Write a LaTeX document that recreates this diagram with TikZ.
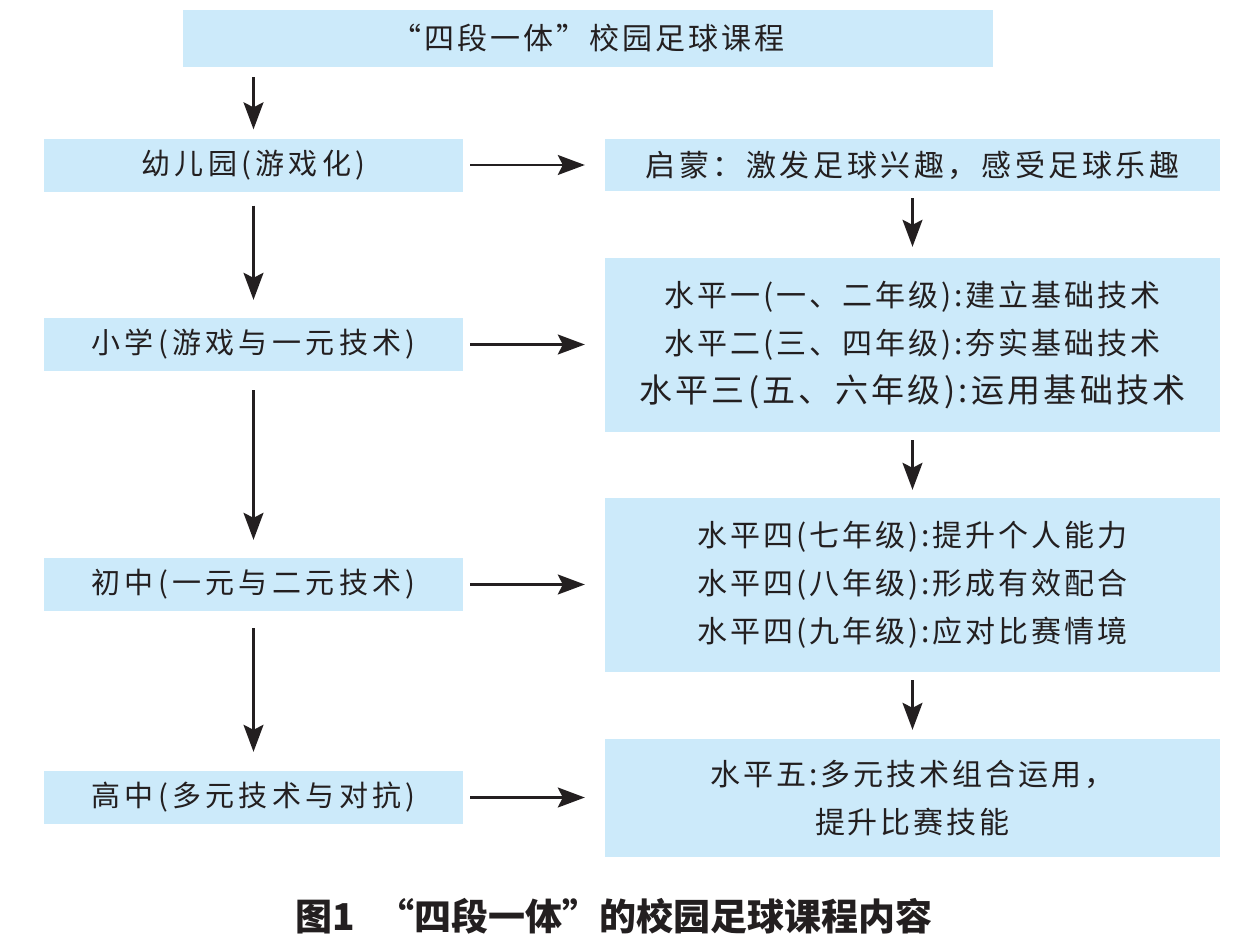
\documentclass[tikz,border=0pt]{standalone}
\usepackage{fontspec}
\setmainfont{Noto Sans CJK SC}
\newfontfamily\lsfont{Noto Sans CJK SC}[LetterSpace=15]
\newfontfamily\ttlfont{Noto Sans CJK SC}[LetterSpace=10]
\newfontfamily\rofont{Noto Sans CJK SC}[LetterSpace=12]
\newfontfamily\rtfont{Noto Sans CJK SC}[LetterSpace=10]
\newfontfamily\capfont{Noto Sans CJK SC}
\usetikzlibrary{arrows.meta}
\definecolor{boxblue}{RGB}{204,234,250}
\definecolor{ink}{RGB}{35,31,32}
\tikzset{
  box/.style={fill=boxblue, draw=none, inner sep=0pt, text=ink, align=center,
    font=\rtfont\fontsize{30pt}{48pt}\selectfont},
  lbox/.style={box, minimum width=419pt, minimum height=53pt,
    font=\lsfont\fontsize{29pt}{48pt}\selectfont},
  rbox/.style={box, minimum width=615pt},
  arr/.style={draw=ink, line width=2.2pt, -{Stealth[length=27pt,width=20pt,inset=5pt]}}
}
\begin{document}
\begin{tikzpicture}[x=1pt,y=-1pt]
\useasboundingbox (0,0) rectangle (1235,948);
% title
\node[box, minimum width=810pt, minimum height=57pt, font=\ttlfont\fontsize{30pt}{48pt}\selectfont] (top) at (588,38.5) {“四段一体”校园足球课程};
% left column
\node[lbox] (k) at (253.5,165) {幼儿园(游戏化)};
\node[lbox] (p) at (253.5,344.5) {小学(游戏与一元技术)};
\node[lbox] (j) at (253.5,584.5) {初中(一元与二元技术)};
\node[lbox] (h) at (253.5,797.5) {高中(多元技术与对抗)};
% right column
\node[rbox, minimum height=52pt, font=\rofont\fontsize{30pt}{48pt}\selectfont] (r1) at (912.5,165) {启蒙：激发足球兴趣，感受足球乐趣};
\node[rbox, minimum height=174pt] (r2) at (912.5,345) {水平一(一、二年级):建立基础技术\\水平二(三、四年级):夯实基础技术\\{\fontsize{33pt}{48pt}\selectfont 水平三(五、六年级):运用基础技术}};
\node[rbox, minimum height=174pt] (r3) at (912.5,585) {水平四(七年级):提升个人能力\\水平四(八年级):形成有效配合\\水平四(九年级):应对比赛情境};
\node[rbox, minimum height=118pt] (r4) at (912.5,798) {水平五:多元技术组合运用，\\提升比赛技能};
% caption
\node[text=ink, inner sep=0pt, font=\capfont\bfseries\fontsize{37pt}{40pt}\selectfont] (cap) at (614,916) {图1\hspace{22pt}“四段一体”的校园足球课程内容};
% vertical arrows, left
\draw[arr, shorten <=10pt, shorten >=9pt] (k.north |- top.south) -- (k.north);
\draw[arr, shorten <=14pt, shorten >=18pt] (k.south) -- (p.north);
\draw[arr, shorten <=19pt, shorten >=18pt] (p.south) -- (j.north);
\draw[arr, shorten <=17pt, shorten >=19pt] (j.south) -- (h.north);
% horizontal arrows
\draw[arr, shorten <=7pt, shorten >=20pt] (k.east) -- (k.east -| r1.west);
\draw[arr, shorten <=7pt, shorten >=20pt] (p.east) -- (p.east -| r2.west);
\draw[arr, shorten <=7pt, shorten >=20pt] (j.east) -- (j.east -| r3.west);
\draw[arr, shorten <=7pt, shorten >=20pt] (h.east) -- (h.east -| r4.west);
% vertical arrows, right
\draw[arr, shorten <=7pt, shorten >=11pt] (r1.south) -- (r2.north);
\draw[arr, shorten <=8pt, shorten >=8pt] (r2.south) -- (r3.north);
\draw[arr, shorten <=8pt, shorten >=9pt] (r3.south) -- (r4.north);
\end{tikzpicture}
\end{document}
